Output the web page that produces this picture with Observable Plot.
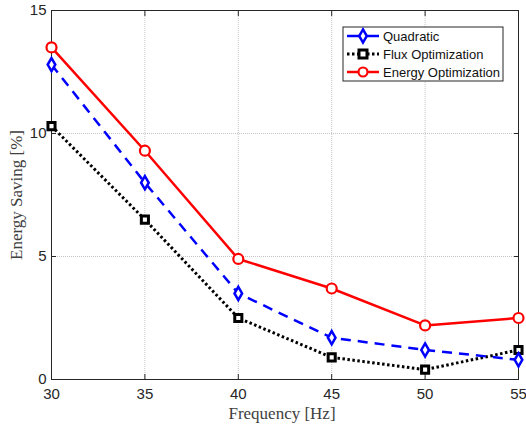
<!DOCTYPE html>
<html><head><meta charset="utf-8">
<script src="https://cdn.jsdelivr.net/npm/d3@7"></script>
<script src="https://cdn.jsdelivr.net/npm/@observablehq/plot@0.6"></script>
<style>body{margin:0;background:#fff}#c{position:relative;width:526px;height:429px}</style>
</head><body><div id="c"></div>
<script>
const frequency = [30, 35, 40, 45, 50, 55];
const quadratic = [12.8, 8.0, 3.5, 1.7, 1.2, 0.8];
const flux = [10.3, 6.5, 2.5, 0.9, 0.4, 1.2];
const energy = [13.5, 9.3, 4.9, 3.7, 2.2, 2.5];
const xTicks = [30, 35, 40, 45, 50, 55];
const yTicks = [0, 5, 10, 15];
const seriesNames = ["Quadratic", "Flux Optimization", "Energy Optimization"];

const mk = v => frequency.map((f, i) => ({f, v: v[i]}));
const dQ = mk(quadratic), dF = mk(flux), dE = mk(energy);

const chart = Plot.plot({
  width: 526, height: 429,
  marginLeft: 51, marginRight: 8, marginTop: 10, marginBottom: 50,
  style: {fontFamily: "Liberation Sans, Arial, sans-serif", fontSize: "15px", background: "#fff", overflow: "visible", color: "#262626"},
  x: {domain: [30, 55], ticks: xTicks},
  y: {domain: [0, 15], ticks: yTicks},
  marks: [
    Plot.ruleX(xTicks.slice(1, -1), {stroke: "#c4c4c4", strokeDasharray: "1,1", strokeWidth: 1}),
    Plot.ruleY(yTicks.slice(1, -1), {stroke: "#c4c4c4", strokeDasharray: "1,1", strokeWidth: 1}),
    Plot.frame({stroke: "#262626", strokeWidth: 1}),
    Plot.axisX({anchor: "bottom", ticks: xTicks, tickSize: -5, tickPadding: 14, label: null, fontSize: 15, stroke: "#262626"}),
    Plot.axisX({anchor: "top", ticks: xTicks, tickSize: -5, tickFormat: () => "", label: null, stroke: "#262626"}),
    Plot.axisY({anchor: "left", ticks: yTicks, tickSize: -5, tickPadding: 10, label: null, fontSize: 15, stroke: "#262626"}),
    Plot.axisY({anchor: "right", ticks: yTicks, tickSize: -5, tickFormat: () => "", label: null, stroke: "#262626"}),
    Plot.line(dF, {x: "f", y: "v", stroke: "#000", strokeWidth: 3, strokeDasharray: "2.5,2.5", strokeLinecap: "butt"}),
    Plot.line(dQ, {x: "f", y: "v", stroke: "#0000ff", strokeWidth: 2.5, strokeDasharray: "10,7", strokeLinecap: "butt"}),
    Plot.line(dE, {x: "f", y: "v", stroke: "#ff0000", strokeWidth: 2.5}),
    Plot.dot(dF, {x: "f", y: "v", symbol: "square", r: 4, fill: "#fff", stroke: "#000", strokeWidth: 3}),
    Plot.dot(dQ, {x: "f", y: "v", symbol: "diamond", r: 4, fill: "#fff", stroke: "#0000ff", strokeWidth: 2.5}),
    Plot.dot(dE, {x: "f", y: "v", symbol: "circle", r: 5, fill: "#fff", stroke: "#ff0000", strokeWidth: 2.2}),
  ]
});
document.getElementById("c").appendChild(chart);

const svg = d3.select(chart);
// axis titles
svg.append("text").attr("x", 282).attr("y", 419).attr("text-anchor", "middle")
  .attr("font-family", "Liberation Serif, Times New Roman, serif").attr("font-size", 17).attr("fill", "#404040")
  .text("Frequency [Hz]");
svg.append("text").attr("transform", "translate(22,195) rotate(-90)").attr("text-anchor", "middle")
  .attr("font-family", "Liberation Serif, Times New Roman, serif").attr("font-size", 17).attr("fill", "#404040")
  .text("Energy Saving [%]");

// legend
const lg = svg.append("g").attr("transform", "translate(343,27)").attr("text-anchor", "start");
lg.append("rect").attr("width", 160).attr("height", 54).attr("fill", "#fff").attr("stroke", "#262626").attr("stroke-width", 1);
const styles = [
  {stroke: "#0000ff", dash: null, w: 2.5},
  {stroke: "#000", dash: "2.5,2.5", w: 3},
  {stroke: "#ff0000", dash: null, w: 2.5}
];
seriesNames.forEach((name, i) => {
  const y = 9 + i * 18;
  const s = styles[i];
  const ln = lg.append("line").attr("x1", 4).attr("x2", 36).attr("y1", y).attr("y2", y)
    .attr("stroke", s.stroke).attr("stroke-width", s.w);
  if (s.dash) ln.attr("stroke-dasharray", s.dash);
  if (i === 0) lg.append("path").attr("d", d3.symbol(d3.symbolDiamond, 50)()).attr("transform", `translate(20,${y})`)
    .attr("fill", "#fff").attr("stroke", "#0000ff").attr("stroke-width", 2.5);
  if (i === 1) lg.append("rect").attr("x", 16).attr("y", y - 4).attr("width", 8).attr("height", 8)
    .attr("fill", "#fff").attr("stroke", "#000").attr("stroke-width", 3);
  if (i === 2) lg.append("circle").attr("cx", 20).attr("cy", y).attr("r", 4.5)
    .attr("fill", "#fff").attr("stroke", "#ff0000").attr("stroke-width", 2.2);
  lg.append("text").attr("x", 40).attr("y", y).attr("dy", "0.35em").attr("font-size", 13).attr("fill", "#111")
    .attr("font-family", "Liberation Sans, Arial, sans-serif").text(name);
});
</script>
</body></html>
